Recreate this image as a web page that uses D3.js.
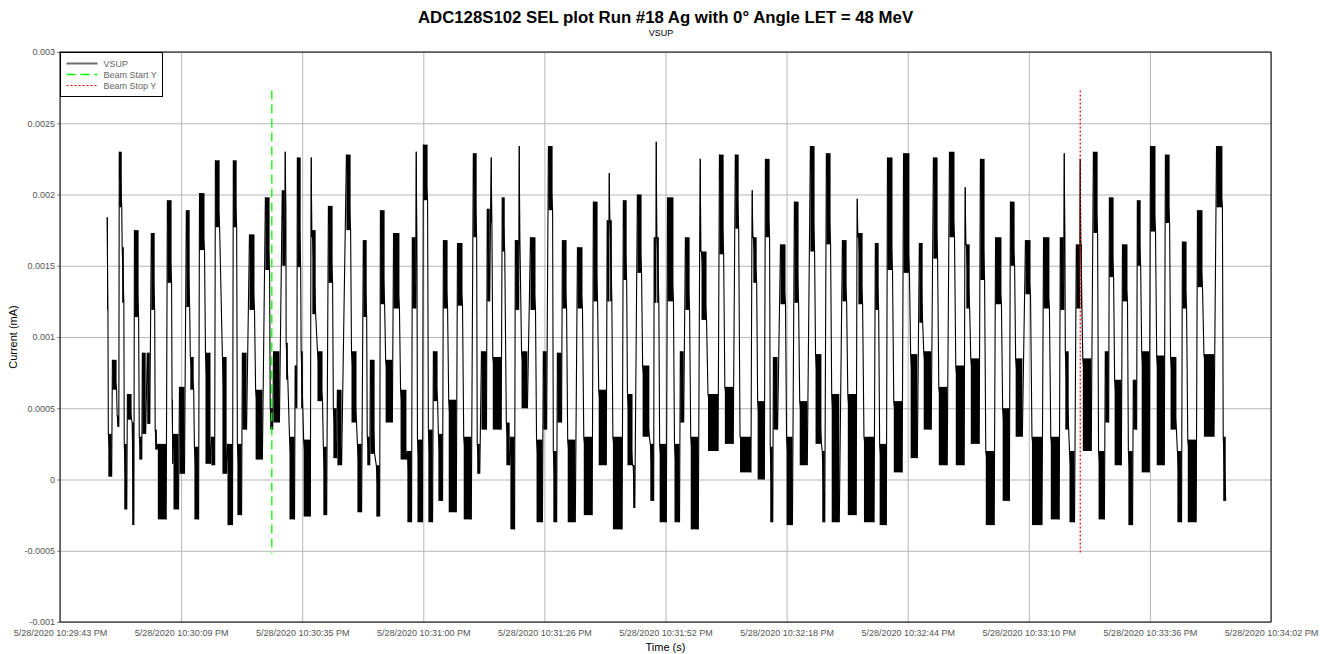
<!DOCTYPE html>
<html>
<head>
<meta charset="utf-8">
<script src="https://cdn.jsdelivr.net/npm/d3@7"></script>
<style>
  body { margin: 0; background: #fff; font-family: "Liberation Sans", Arial, sans-serif; }
  .tick text { fill: #555; font-size: 9px; font-family: "Liberation Sans", Arial, sans-serif; }
  .grid line { stroke: #b7b7b7; stroke-width: 1; }
  .grid .domain { display: none; }
</style>
</head>
<body>
<div id="chart"></div>
<script>
// chart text
var chartTitle = 'ADC128S102 SEL plot Run #18 Ag with 0\u00B0 Angle LET = 48 MeV';
var chartSubtitle = 'VSUP';
var yLabel = 'Current (mA)';
var xLabel = 'Time (s)';

// x axis: seconds after 10:29:43 PM
var timeTickSeconds = [0, 25.9, 51.8, 77.7, 103.6, 129.5, 155.4, 181.3, 207.2, 233.1, 259];
var timeTickLabels = ['5/28/2020 10:29:43 PM', '5/28/2020 10:30:09 PM', '5/28/2020 10:30:35 PM',
  '5/28/2020 10:31:00 PM', '5/28/2020 10:31:26 PM', '5/28/2020 10:31:52 PM', '5/28/2020 10:32:18 PM',
  '5/28/2020 10:32:44 PM', '5/28/2020 10:33:10 PM', '5/28/2020 10:33:36 PM', '5/28/2020 10:34:02 PM'];

// y axis (mA)
var currentTicks = [-0.001, -0.0005, 0, 0.0005, 0.001, 0.0015, 0.002, 0.0025, 0.003];
var currentTickLabels = ['-0.001', '-0.0005', '0', '0.0005', '0.001', '0.0015', '0.002', '0.0025', '0.003'];

// beam markers
var beamStartTime = 45.3;
var beamStopTime = 218.2;
var beamRange = [-0.00052, 0.00273];

// VSUP trace read as noisy stretches: [t start (s), t end (s), low, high] with current in 1e-4 mA
var vsupUnit = 1e-4;
var vsupSegments = [
  [10.05,10.27,11.9,18.4],[10.27,11.12,0.2,3.2],[11.12,12.19,6.3,8.4],[12.19,12.62,3.7,4.5],
  [12.62,13.26,19.1,23.0],[13.26,13.69,12.4,16.3],[13.69,14.33,-2.1,2.5],[14.33,15.40,4.2,6.0],
  [15.40,15.83,-3.2,4.0],[15.83,16.90,11.4,17.5],[16.90,17.54,1.4,3.0],[17.54,18.39,3.2,8.9],
  [18.61,19.25,3.9,8.9],[19.46,20.32,11.9,17.3],[20.32,20.75,2.1,3.5],[20.75,22.88,-2.8,2.5],
  [22.88,23.95,13.8,19.6],[23.95,24.17,1.1,5.6],[24.17,25.45,-2.1,3.2],[25.45,26.73,0.4,6.5],
  [26.95,27.80,12.1,18.9],[27.80,28.66,6.3,8.6],[28.66,29.73,-2.8,2.3],[29.73,31.01,16.1,20.1],
  [31.01,32.29,1.1,8.9],[32.29,33.15,1.0,3.0],[33.15,34.22,17.7,22.4],[34.65,35.72,0.4,8.6],
  [35.72,37.00,-3.2,2.5],[37.00,37.85,17.7,22.4],[37.85,38.92,-2.5,2.5],[38.92,39.99,3.5,8.9],
  [40.42,41.70,11.9,17.2],[41.70,43.42,1.4,6.3],[43.84,44.91,14.7,19.8],[44.91,45.55,3.5,5.0],
  [45.55,47.05,4.0,9.0],[47.48,48.12,15.0,20.3],[48.12,48.33,19.0,23.0],[48.33,48.76,7.0,9.6],
  [48.98,50.26,-2.8,3.0],[50.26,50.69,5.0,8.0],[50.69,51.54,14.9,22.6],[51.54,51.97,5.0,9.0],
  [51.97,53.68,-2.6,2.8],[53.68,53.90,17.0,22.6],[53.90,54.75,11.6,17.5],[54.96,56.25,5.5,9.0],
  [56.25,57.10,-2.5,2.3],[57.32,58.39,13.8,19.2],[58.39,59.24,1.5,5.0],[59.24,60.31,1.0,6.3],
  [61.17,62.24,17.5,22.8],[62.24,63.52,4.0,9.0],[63.52,64.59,-2.3,2.5],[64.80,65.66,11.4,16.8],
  [65.66,66.30,1.0,3.0],[66.30,67.37,1.8,8.4],[67.58,68.44,-2.6,1.0],[68.44,69.51,12.3,18.9],
  [69.51,71.22,4.0,8.4],[71.22,72.72,12.0,17.3],[72.72,74.21,1.4,6.3],[74.21,75.28,-3.0,2.0],
  [75.28,76.14,12.0,17.0],[76.14,76.35,17.0,23.0],[76.35,77.63,-3.0,2.8],[77.63,78.70,19.6,23.5],
  [78.70,79.77,-3.0,3.5],[79.77,80.84,5.5,9.0],[80.84,81.91,-1.5,3.2],[81.91,82.98,12.0,16.8],
  [82.98,84.91,-2.3,5.6],[84.91,86.19,12.2,16.6],[86.19,88.12,-2.8,3.0],[88.33,89.18,17.0,22.9],
  [89.18,89.83,0.4,2.5],[90.04,91.32,3.5,9.0],[91.32,91.96,12.5,19.0],[92.18,92.39,18.0,22.6],
  [92.39,94.53,3.5,8.6],[94.53,95.17,16.0,19.8],[95.39,96.24,1.0,4.0],[96.24,97.31,-3.5,3.0],
  [97.31,98.17,11.9,16.8],[98.17,98.38,16.8,23.4],[98.59,100.09,5.0,9.0],[100.52,101.80,11.9,17.0],
  [101.80,103.30,-3.0,2.8],[103.30,104.15,3.5,9.0],[104.37,105.44,18.9,23.4],[105.44,106.29,-3.0,2.0],
  [106.29,107.36,4.0,8.9],[107.36,108.43,12.0,16.8],[108.43,110.36,-3.0,2.8],[110.57,111.85,12.0,16.3],
  [111.85,113.99,-2.5,3.0],[113.99,115.06,12.5,19.5],[115.06,116.99,1.0,6.3],[116.99,117.42,12.5,18.2],
  [117.42,117.63,18.0,21.5],[117.63,118.06,12.5,18.2],[118.06,120.41,-3.5,3.0],[120.41,121.26,14.0,19.6],
  [121.26,122.55,1.0,6.0],[122.55,122.97,-2.0,1.0],[123.40,124.47,14.5,20.0],[124.47,126.18,3.0,8.0],
  [126.18,127.04,-1.5,2.5],[127.04,127.47,12.4,17.0],[127.47,127.68,17.0,23.7],[127.68,128.11,12.4,17.0],
  [128.11,129.82,-3.0,2.5],[129.82,131.32,12.5,19.8],[131.32,132.60,-3.0,2.5],[132.60,133.46,4.0,9.0],
  [133.67,134.74,11.9,17.0],[134.74,136.67,-3.5,3.0],[136.88,137.10,16.0,22.5],[137.10,138.38,11.2,16.0],
  [138.38,140.95,2.0,6.0],[140.95,142.02,15.8,22.8],[142.02,144.16,2.5,6.5],[144.36,145.22,17.6,22.8],
  [145.22,148.00,0.5,3.0],[148.00,148.21,17.0,20.3],[148.21,149.07,13.8,17.0],[149.07,150.78,0.0,5.5],
  [150.78,151.85,17.0,22.5],[151.85,152.49,-3.0,2.3],[152.49,153.56,3.5,8.6],[153.99,155.27,12.3,16.5],
  [155.27,156.77,-3.2,3.0],[156.98,158.05,12.4,19.5],[158.05,159.98,1.0,5.5],[160.40,161.47,16.0,23.4],
  [161.47,162.97,2.5,8.8],[162.97,163.61,-3.0,2.0],[163.82,164.89,16.5,22.9],[164.89,166.82,-3.0,6.0],
  [167.25,168.32,12.5,16.8],[168.32,170.46,-2.5,6.0],[170.46,170.67,17.0,19.7],[170.67,171.74,12.3,17.3],
  [171.74,174.31,-3.0,3.0],[174.31,175.16,11.9,16.6],[175.16,176.87,-3.2,2.5],[176.87,178.15,14.7,22.6],
  [178.15,180.29,0.5,5.5],[180.29,181.79,14.5,22.9],[181.79,183.50,1.5,8.8],[183.72,184.57,11.0,16.6],
  [184.57,186.49,3.5,9.0],[186.71,187.78,15.5,22.6],[187.78,189.92,1.0,6.5],[190.13,191.41,17.0,23.0],
  [191.41,193.55,1.0,8.0],[193.55,193.77,16.5,20.5],[193.77,194.62,12.0,16.5],[194.62,196.76,2.5,8.5],
  [196.76,197.83,14.0,22.5],[197.83,199.97,-3.2,2.0],[199.97,201.47,12.3,17.0],[201.47,203.18,-1.5,5.0],
  [203.18,204.25,15.0,19.5],[204.25,205.96,3.0,8.5],[206.38,207.67,13.0,16.8],[207.67,210.23,-3.2,3.0],
  [210.23,211.73,12.0,17.0],[211.73,213.87,-2.8,3.0],[213.87,214.73,11.9,17.0],[214.73,214.94,17.0,22.9],
  [214.94,215.80,3.5,9.0],[215.80,217.08,-3.0,2.0],[217.29,218.15,12.0,16.5],[218.15,218.36,16.5,22.5],
  [218.36,218.58,12.0,16.5],[218.58,220.72,2.0,8.5],[220.93,222.00,17.3,23.0],[222.00,223.49,-2.8,2.0],
  [223.49,224.35,4.0,9.0],[224.35,225.42,14.2,19.8],[225.42,227.13,1.0,7.0],[227.13,228.41,12.5,16.5],
  [228.41,229.48,-3.2,2.0],[229.48,230.34,3.5,7.0],[230.34,231.19,15.0,19.6],[231.19,233.12,0.5,9.0],
  [233.12,234.40,17.4,23.4],[234.40,236.33,1.0,8.7],[236.33,237.40,18.0,22.8],[237.40,238.89,3.5,8.6],
  [238.89,239.96,-3.0,2.0],[239.96,241.03,12.0,16.7],[241.03,243.17,-3.0,2.8],[243.17,244.45,13.5,18.9],
  [244.45,247.02,3.0,8.8],[247.23,248.73,19.1,23.4],[248.73,249.37,-1.5,3.0]
];

var legendNames = ['VSUP', 'Beam Start Y', 'Beam Stop Y'];

var width = 1323, height = 654;
var margin = {top: 52, right: 52, bottom: 32, left: 60};
var plotW = width - margin.left - margin.right,
    plotH = height - margin.top - margin.bottom;

var svg = d3.select('#chart').append('svg')
  .attr('width', width)
  .attr('height', height);

var x = d3.scaleLinear().domain([0, 259]).range([0, plotW]);
var y = d3.scaleLinear().domain([-0.001, 0.003]).range([plotH, 0]);

var chart = svg.append('g')
  .attr('transform', 'translate(' + margin.left + ',' + margin.top + ')');

// grid
chart.append('g')
  .attr('class', 'grid')
  .attr('transform', 'translate(0,' + plotH + ')')
  .call(d3.axisBottom(x).tickValues(timeTickSeconds).tickSize(-plotH).tickFormat(''));
chart.append('g')
  .attr('class', 'grid')
  .call(d3.axisLeft(y).tickValues(currentTicks).tickSize(-plotW).tickFormat(''));

// axes labels
var yAxis = chart.append('g')
  .call(d3.axisLeft(y).tickValues(currentTicks).tickSize(3).tickPadding(2)
    .tickFormat(function(d, i) { return currentTickLabels[i]; }));
yAxis.select('.domain').remove();
yAxis.selectAll('.tick line').attr('stroke', '#888');

var xAxis = chart.append('g')
  .attr('transform', 'translate(0,' + plotH + ')')
  .call(d3.axisBottom(x).tickValues(timeTickSeconds).tickSize(0).tickPadding(8)
    .tickFormat(function(d, i) { return timeTickLabels[i]; }));
xAxis.select('.domain').remove();

// trace: a dark band for each noisy stretch, joined by the vertical jumps
function inner(d) {
  var pad = (d[1] - d[0]) * 0.08;
  return [d[0] + pad, d[1] - pad];
}
var trace = chart.append('g');
trace.selectAll('rect')
  .data(vsupSegments)
  .enter().append('rect')
  .attr('x', function(d) { return x(inner(d)[0]); })
  .attr('width', function(d) { return Math.max(0.8, x(inner(d)[1]) - x(inner(d)[0])); })
  .attr('y', function(d) { return y(d[3] * vsupUnit); })
  .attr('height', function(d) { return Math.max(0.8, y(d[2] * vsupUnit) - y(d[3] * vsupUnit)); })
  .attr('fill', '#000');

var tracePoints = [];
vsupSegments.forEach(function(d) {
  var t = inner(d);
  tracePoints.push([t[0], d[3]]);
  tracePoints.push([t[1], d[2]]);
});
var line = d3.line()
  .x(function(p) { return x(p[0]); })
  .y(function(p) { return y(p[1] * vsupUnit); });
trace.append('path')
  .datum(tracePoints)
  .attr('d', line)
  .attr('fill', 'none')
  .attr('stroke', '#000')
  .attr('stroke-width', 1.1);

// beam lines
chart.append('line')
  .attr('x1', x(beamStartTime)).attr('x2', x(beamStartTime))
  .attr('y1', y(beamRange[1])).attr('y2', y(beamRange[0]))
  .attr('stroke', '#00ff00').attr('stroke-width', 1.3)
  .attr('stroke-dasharray', '9,5');
chart.append('line')
  .attr('x1', x(beamStopTime)).attr('x2', x(beamStopTime))
  .attr('y1', y(beamRange[1])).attr('y2', y(beamRange[0]))
  .attr('stroke', '#ff0000').attr('stroke-width', 1.2)
  .attr('stroke-dasharray', '2,2');

// frame
chart.append('rect')
  .attr('x', 0).attr('y', 0)
  .attr('width', plotW).attr('height', plotH)
  .attr('fill', 'none').attr('stroke', '#000').attr('stroke-width', 1);

// legend
var legend = chart.append('g').attr('transform', 'translate(0.5,0.5)');
legend.append('rect')
  .attr('width', 102).attr('height', 44)
  .attr('fill', '#fff').attr('stroke', '#000');
var legendStyles = [
  {stroke: '#6e6e6e', width: 2, dash: null},
  {stroke: '#00ff00', width: 1.3, dash: '9,5'},
  {stroke: '#ff0000', width: 1.2, dash: '2,2'}
];
legendNames.forEach(function(name, i) {
  var row = legend.append('g').attr('transform', 'translate(0,' + (11 + i * 11) + ')');
  row.append('line')
    .attr('x1', 6).attr('x2', 37)
    .attr('stroke', legendStyles[i].stroke)
    .attr('stroke-width', legendStyles[i].width)
    .attr('stroke-dasharray', legendStyles[i].dash);
  row.append('text')
    .attr('x', 43).attr('y', 3)
    .attr('font-size', 9).attr('fill', '#666')
    .text(name);
});

// titles
svg.append('text')
  .attr('x', margin.left + plotW / 2).attr('y', 23)
  .attr('text-anchor', 'middle')
  .attr('font-size', 16.8).attr('font-weight', 'bold')
  .text(chartTitle);
svg.append('text')
  .attr('x', 661).attr('y', 36)
  .attr('text-anchor', 'middle')
  .attr('font-size', 9)
  .text(chartSubtitle);
svg.append('text')
  .attr('transform', 'translate(17,' + (margin.top + plotH / 2) + ') rotate(-90)')
  .attr('text-anchor', 'middle')
  .attr('font-size', 11)
  .text(yLabel);
svg.append('text')
  .attr('x', margin.left + plotW / 2).attr('y', 651)
  .attr('text-anchor', 'middle')
  .attr('font-size', 11)
  .text(xLabel);
</script>
</body>
</html>
